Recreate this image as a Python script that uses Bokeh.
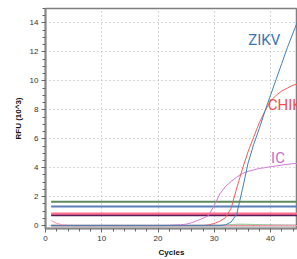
from bokeh.plotting import figure
from bokeh.models import Label, Range1d, FixedTicker
from bokeh.embed import file_html
from bokeh.resources import INLINE

cycles = list(range(1, 46))

zikv = [0.0]*31 + [0.05, 0.25, 0.8, 2.5, 4.3, 5.6, 6.7, 7.9, 9.0, 10.1, 11.2, 12.3, 13.3, 14.3]
chikv = [0.0]*28 + [0.05, 0.15, 0.3, 0.55, 1.2, 2.6, 3.9, 5.1, 6.1, 7.1, 7.9, 8.6, 9.0, 9.3, 9.5, 9.7, 9.8]
ic = [0.0]*21 + [0.02, 0.04, 0.06, 0.1, 0.2, 0.35, 0.5, 0.7, 1.4, 2.2, 2.7, 3.05, 3.35, 3.6, 3.75,
                 3.85, 3.95, 4.0, 4.07, 4.12, 4.18, 4.23, 4.28, 4.3]
noise = [0.35, 0.15, 0.06, 0.02] + [0.0]*41
green_low = [0.0]*31 + [0.03, 0.07, 0.1, 0.1, 0.09, 0.08, 0.07, 0.05, 0.04, 0.03, 0.02, 0.01, 0.0, -0.01]

thr_green = [1.65]*45
thr_blue = [1.32]*45
thr_pink = [0.8]*45
thr_navy = [0.7]*45
base_dark = [0.0]*45

y_major = [0, 2, 4, 6, 8, 10, 12, 14]
x_major = [0, 10, 20, 30, 40]

p = figure(width=297, height=259, output_backend="svg", toolbar_location=None,
           x_range=Range1d(0, 44.8), y_range=Range1d(-0.2, 15.0),
           min_border_left=45, min_border_right=0, min_border_top=8, min_border_bottom=30)
p.background_fill_color = "white"
p.border_fill_color = "white"
p.outline_line_color = "#808080"
p.outline_line_width = 1.5

for ax in (p.xaxis[0], p.yaxis[0]):
    ax.axis_line_color = "#8a8a8a"
    ax.axis_line_width = 2
    ax.major_tick_line_color = "#666666"
    ax.minor_tick_line_color = "#666666"
    ax.major_tick_out = 4
    ax.major_tick_in = 0
    ax.minor_tick_out = 3
    ax.minor_tick_in = 0
    ax.major_label_text_font = "Liberation Sans"
    ax.major_label_text_font_size = "8px"
    ax.major_label_text_color = "#333333"
    ax.major_label_standoff = 3
    ax.axis_label_text_font = "Liberation Sans"
    ax.axis_label_text_font_size = "8px"
    ax.axis_label_text_font_style = "bold"
    ax.axis_label_text_color = "#111111"
    ax.axis_label_standoff = 4

p.xaxis.ticker = FixedTicker(ticks=x_major, minor_ticks=list(range(0, 46, 2)))
p.yaxis.ticker = FixedTicker(ticks=y_major, minor_ticks=[i*0.5 for i in range(0, 31)])
p.xaxis.axis_label = "Cycles"
p.yaxis.axis_label = "RFU (10^3)"

p.xgrid.ticker = FixedTicker(ticks=x_major)
p.ygrid.ticker = FixedTicker(ticks=y_major)
p.grid.grid_line_color = "#b0b0b0"
p.grid.grid_line_dash = "1 3"
p.grid.grid_line_width = 1

p.line(cycles, base_dark, line_color="#404050", line_width=1.5)
p.line(cycles, green_low, line_color="#9cc89c", line_width=1)
p.line(cycles, thr_green, line_color="#5f8a5f", line_width=2)
p.line(cycles, thr_blue, line_color="#5b7fb8", line_width=2)
p.line(cycles, thr_pink, line_color="#ff6f8f", line_width=3)
p.line(cycles, thr_navy, line_color="#5a1e5a", line_width=1.5)
p.line(cycles, noise, line_color="#ff9aa8", line_width=1)

p.line(cycles, ic, line_color="#d07ad0", line_width=1)
p.line(cycles, chikv, line_color="#f35c5c", line_width=1)
p.line(cycles, zikv, line_color="#3f80b8", line_width=1)

lab_font = "Roboto"
p.add_layout(Label(x=36.05, y=12.8, text="ZIKV", text_color="#3a78b0",
                   text_font=lab_font, text_font_size="15px", text_baseline="middle"))
p.add_layout(Label(x=39.5, y=8.3, text="CHIKV", text_color="#f05050",
                   text_font=lab_font, text_font_size="15px", text_baseline="middle"))
p.add_layout(Label(x=40.1, y=4.7, text="IC", text_color="#c86ec8",
                   text_font=lab_font, text_font_size="15px", text_baseline="middle"))

open("out.html", "w").write(file_html(p, INLINE))
